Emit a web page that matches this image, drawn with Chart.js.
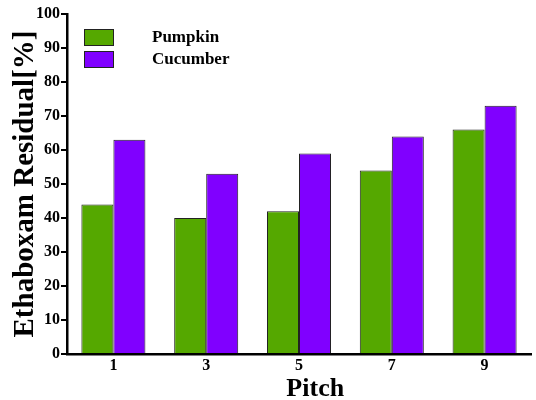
<!DOCTYPE html>
<html>
<head>
<meta charset="utf-8">
<script src="https://cdn.jsdelivr.net/npm/chart.js@4.4.1/dist/chart.umd.min.js"></script>
<style>
  html, body { margin: 0; padding: 0; background: #fff; }
  #wrap { width: 536px; height: 400px; }
</style>
</head>
<body>
<div id="wrap"><canvas id="myChart" width="536" height="400"></canvas></div>
<script>
const pitches = ['1', '3', '5', '7', '9'];
const pumpkin = [44, 40, 42, 54, 66];
const cucumber = [63, 53, 59, 64, 73];
const seriesNames = ['Pumpkin', 'Cucumber'];

const serif = '"Liberation Serif", "Times New Roman", serif';

// legend drawn inside the plot, top left
const innerLegend = {
  id: 'innerLegend',
  afterDraw(chart) {
    const ctx = chart.ctx;
    const area = chart.chartArea;
    ctx.save();
    chart.data.datasets.forEach((ds, i) => {
      const x = area.left + 17;
      const y = area.top + 15 + i * 22;
      ctx.fillStyle = ds.backgroundColor;
      ctx.fillRect(x, y, 30, 17);
      ctx.strokeStyle = '#222';
      ctx.lineWidth = 1;
      ctx.strokeRect(x + 0.5, y + 0.5, 29, 16);
      ctx.fillStyle = '#000';
      ctx.font = 'bold 17px ' + serif;
      ctx.textBaseline = 'middle';
      ctx.fillText(ds.label, x + 68, y + 9);
    });
    ctx.restore();
  }
};

const ctx = document.getElementById('myChart').getContext('2d');
new Chart(ctx, {
  type: 'bar',
  data: {
    labels: pitches,
    datasets: [
      {
        label: seriesNames[0],
        data: pumpkin,
        backgroundColor: 'rgb(85, 168, 0)',
        borderColor: '#222',
        borderWidth: 1,
      },
      {
        label: seriesNames[1],
        data: cucumber,
        backgroundColor: 'rgb(128, 0, 255)',
        borderColor: '#222',
        borderWidth: 1,
      }]
  },
  options: {
    responsive: false,
    animation: false,
    layout: { padding: { top: 14, right: 5, left: 0, bottom: 0 } },
    datasets: {
      bar: { categoryPercentage: 0.69, barPercentage: 1 }
    },
    plugins: {
      legend: { display: false },
      tooltip: { enabled: false }
    },
    scales: {
      x: {
        grid: { display: false },
        border: { display: true, color: '#000', width: 2.5 },
        ticks: {
          color: '#000',
          padding: -6,
          font: { family: serif, size: 16, weight: 'bold' }
        },
        title: {
          display: true,
          text: '     Pitch',
          color: '#000',
          padding: { top: 0, bottom: -5 },
          font: { family: serif, size: 26, weight: 'bold' }
        },
        afterFit(scale) { scale.height = 46; }
      },
      y: {
        min: 0,
        max: 100,
        ticks: {
          stepSize: 10,
          color: '#000',
          padding: 1,
          font: { family: serif, size: 16, weight: 'bold' }
        },
        grid: {
          drawOnChartArea: false,
          drawTicks: true,
          tickLength: 6,
          color: '#000',
          lineWidth: 2
        },
        border: { display: true, color: '#000', width: 2.5 },
        title: {
          display: true,
          text: 'Ethaboxam Residual[%]',
          color: '#000',
          padding: { top: 8, bottom: 0 },
          font: { family: serif, size: 29, weight: 'bold' }
        },
        afterFit(scale) { scale.width = 67; }
      }
    }
  },
  plugins: [innerLegend]
});
</script>
</body>
</html>
